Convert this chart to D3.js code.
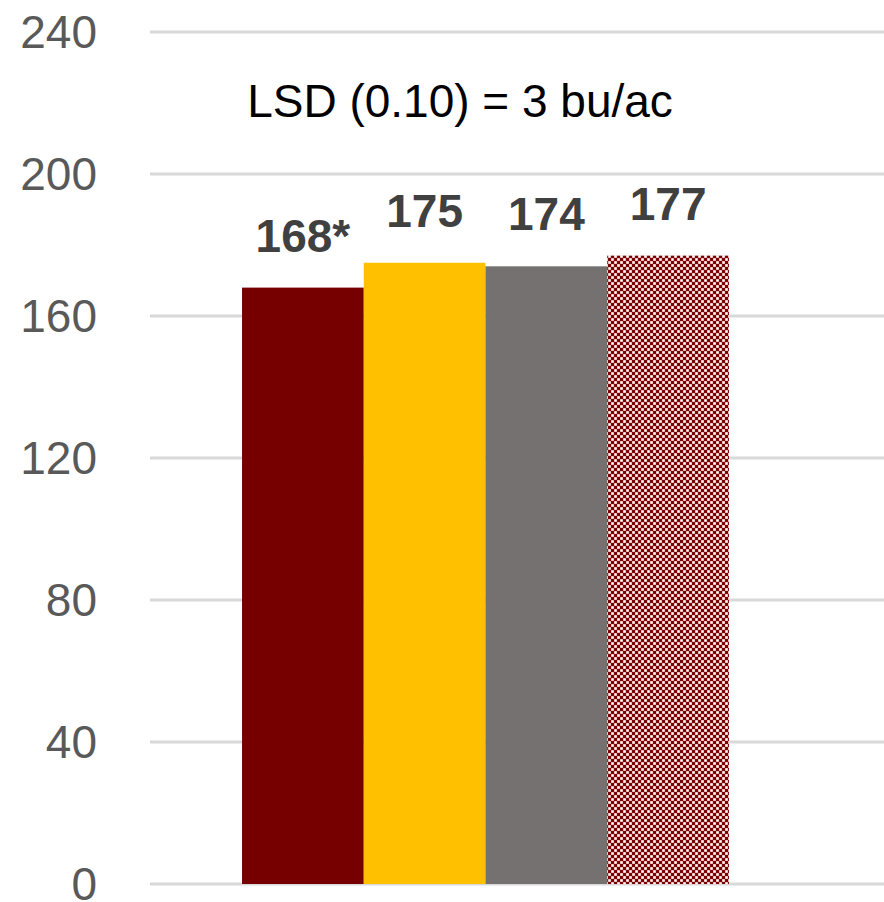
<html>
<head>
  <script src="https://d3js.org/d3.v7.min.js"></script>
  <style>
    body { margin: 0; background: white; }
    .tick-label { font-family: "Liberation Sans", Arial, sans-serif; font-size: 46px; fill: #595959; }
    .bar-label { font-family: "Liberation Sans", Arial, sans-serif; font-size: 46px; font-weight: bold; fill: #404040; }
    .title { font-family: "Liberation Sans", Arial, sans-serif; font-size: 46px; fill: black; }
    .grid line { stroke: #d9d9d9; stroke-width: 3px; }
  </style>
</head>
<body>
  <svg id="chart" width="884" height="902"></svg>
  <script>
    // chart data
    const categories = ["Yield"];
    const series = ["s1", "s2", "s3", "s4"];
    const values = [168, 175, 174, 177];
    const valueLabels = ["168*", "175", "174", "177"];
    const colors = ["#760000", "#FFC000", "#767171", "url(#checks)"];
    const yTicks = [0, 40, 80, 120, 160, 200, 240];
    const title = "LSD (0.10) = 3 bu/ac";

    const svg = d3.select("#chart");

    // small checker pattern for the last bar
    const pat = svg.append("defs").append("pattern")
      .attr("id", "checks")
      .attr("width", 6).attr("height", 6)
      .attr("patternUnits", "userSpaceOnUse");
    pat.append("rect").attr("width", 6).attr("height", 6).attr("fill", "#c06464");
    pat.append("rect").attr("x", 0).attr("y", 0).attr("width", 3).attr("height", 3).attr("fill", "#7a0000");
    pat.append("rect").attr("x", 3).attr("y", 3).attr("width", 3).attr("height", 3).attr("fill", "#7a0000");
    pat.append("rect").attr("x", 3.3).attr("y", 0.3).attr("width", 2.4).attr("height", 2.4).attr("fill", "white");
    pat.append("rect").attr("x", 0.3).attr("y", 3.3).attr("width", 2.4).attr("height", 2.4).attr("fill", "white");

    const y = d3.scaleLinear().domain([0, 240]).range([884, 32]);
    const x = d3.scaleBand().domain(categories).range([150, 821]).paddingOuter(0.189);
    const xs = d3.scaleBand().domain(series).range([0, x.bandwidth()]);

    // gridlines
    svg.append("g").attr("class", "grid")
      .selectAll("line").data(yTicks).join("line")
      .attr("x1", 150).attr("x2", 884)
      .attr("y1", d => y(d)).attr("y2", d => y(d));

    // y axis labels
    svg.append("g").selectAll("text").data(yTicks).join("text")
      .attr("class", "tick-label")
      .attr("x", 97)
      .attr("y", d => y(d))
      .attr("dy", "0.34em")
      .attr("text-anchor", "end")
      .text(d => d);

    const g = svg.append("g").attr("transform", `translate(${x("Yield")},0)`);

    g.selectAll("rect").data(values).join("rect")
      .attr("x", (d, i) => xs(series[i]))
      .attr("width", xs.bandwidth())
      .attr("y", d => y(d))
      .attr("height", d => y(0) - y(d))
      .attr("fill", (d, i) => colors[i]);

    g.selectAll("text").data(values).join("text")
      .attr("class", "bar-label")
      .attr("x", (d, i) => xs(series[i]) + xs.bandwidth() / 2)
      .attr("y", d => y(d) - 36)
      .attr("text-anchor", "middle")
      .text((d, i) => valueLabels[i]);

    svg.append("text")
      .attr("class", "title")
      .attr("x", 460)
      .attr("y", 117)
      .attr("text-anchor", "middle")
      .text(title);
  </script>
</body>
</html>
